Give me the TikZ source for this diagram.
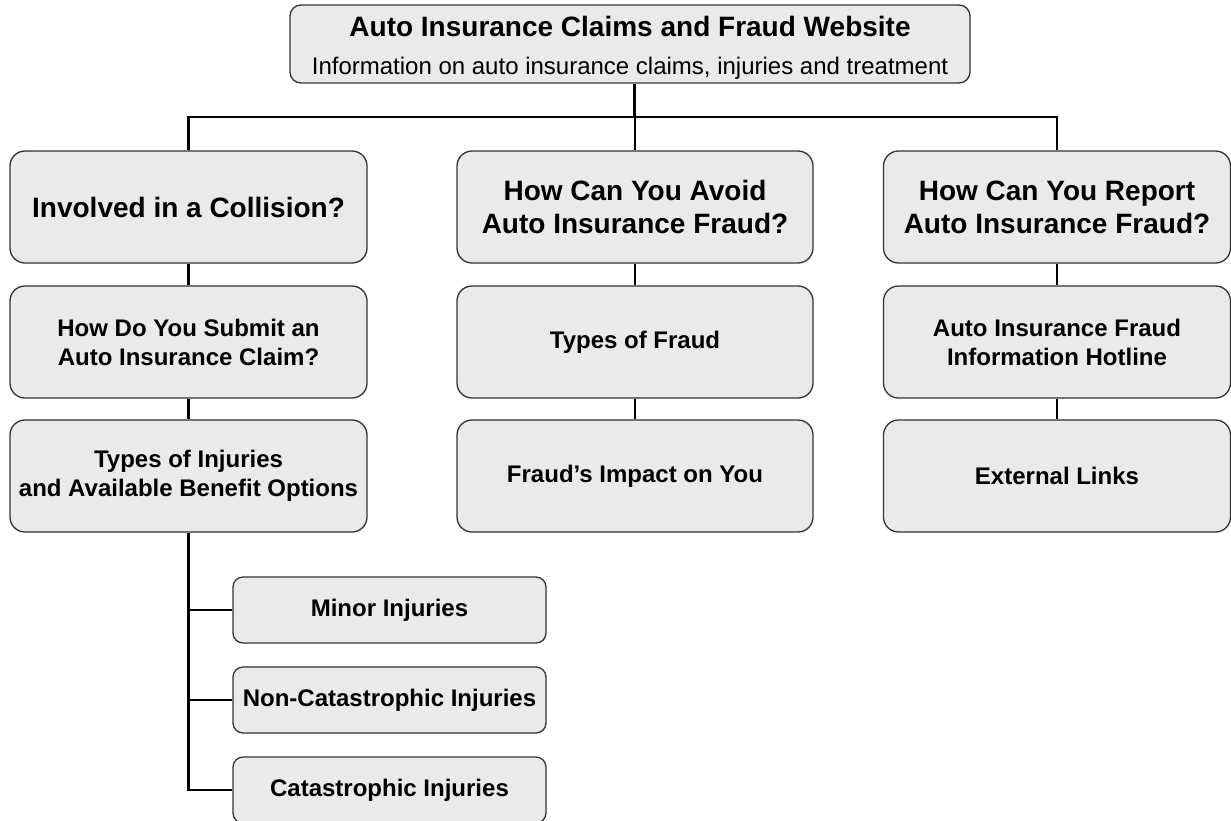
\documentclass[tikz,border=0pt]{standalone}
\usepackage{fontspec}
\setmainfont{Liberation Sans}
\definecolor{boxfill}{HTML}{EAEAEA}
\definecolor{boxline}{HTML}{333333}
\tikzset{
  card/.style={draw=boxline, line width=1.3pt, fill=boxfill, inner sep=0pt, align=center, text=black},
  bigcard/.style={card, rounded corners=15pt, minimum height=112pt},
  smallcard/.style={card, rounded corners=10pt, minimum width=313pt, minimum height=66pt, font=\fontsize{24}{29}\selectfont\bfseries},
  headfont/.style={font=\fontsize{28}{33}\selectfont\bfseries},
  subfont/.style={font=\fontsize{24}{29}\selectfont\bfseries},
  conn/.style={draw=black, line width=2.3pt},
}
\begin{document}
\begin{tikzpicture}[x=1pt,y=-1pt]
\useasboundingbox (0,0) rectangle (1231,820);
% top box
\node[card, rounded corners=11pt, minimum width=680pt, minimum height=78pt] (top) at (630,44) {};
\node[anchor=base, font=\fontsize{28}{33}\selectfont\bfseries] (toptitle) at (630,36) {Auto Insurance Claims and Fraud Website};
\node[anchor=base, font=\fontsize{24}{28}\selectfont] (topsub) at (630,74) {Information on auto insurance claims, injuries and treatment};
% column 1
\node[bigcard, headfont, minimum width=357pt] (a1) at (188.5,207) {Involved in a Collision?};
\node[bigcard, subfont, minimum width=357pt] (a2) at (188.5,342) {How Do You Submit an\\Auto Insurance Claim?};
\node[bigcard, subfont, minimum width=357pt] (a3) at (188.5,476) {Types of Injuries\\and Available Benefit Options};
% column 2
\node[bigcard, headfont, minimum width=356pt] (b1) at (635,207) {How Can You Avoid\\Auto Insurance Fraud?};
\node[bigcard, subfont, minimum width=356pt] (b2) at (635,342) {Types of Fraud};
\node[bigcard, subfont, minimum width=356pt] (b3) at (635,476) {Fraud’s Impact on You};
% column 3
\node[bigcard, headfont, minimum width=347pt] (c1) at (1057,207) {How Can You Report\\Auto Insurance Fraud?};
\node[bigcard, subfont, minimum width=347pt] (c2) at (1057,342) {Auto Insurance Fraud\\Information Hotline};
\node[bigcard, subfont, minimum width=347pt] (c3) at (1057,476) {External Links};
% sub boxes
\node[smallcard] (s1) at (389.5,610) {Minor Injuries};
\node[smallcard] (s2) at (389.5,700) {Non-Catastrophic Injuries};
\node[smallcard] (s3) at (389.5,790) {Catastrophic Injuries};
% connectors
\coordinate (bus) at (634.5,117);
\draw[conn] (top.south -| bus) -- (bus);
\draw[conn] (a1.north) -- (a1.north |- bus) -- (c1.north |- bus) -- (c1.north);
\draw[conn] (b1.north) -- (b1.north |- bus);
\draw[conn] (a1.south) -- (a2.north);
\draw[conn] (a2.south) -- (a3.north);
\draw[conn] (b1.south) -- (b2.north);
\draw[conn] (b2.south) -- (b3.north);
\draw[conn] (c1.south) -- (c2.north);
\draw[conn] (c2.south) -- (c3.north);
\draw[conn] (a3.south) -- (a3.south |- s3.west) -- (s3.west);
\draw[conn] (s1.west) -- (s1.west -| a3.south);
\draw[conn] (s2.west) -- (s2.west -| a3.south);
\end{tikzpicture}
\end{document}
